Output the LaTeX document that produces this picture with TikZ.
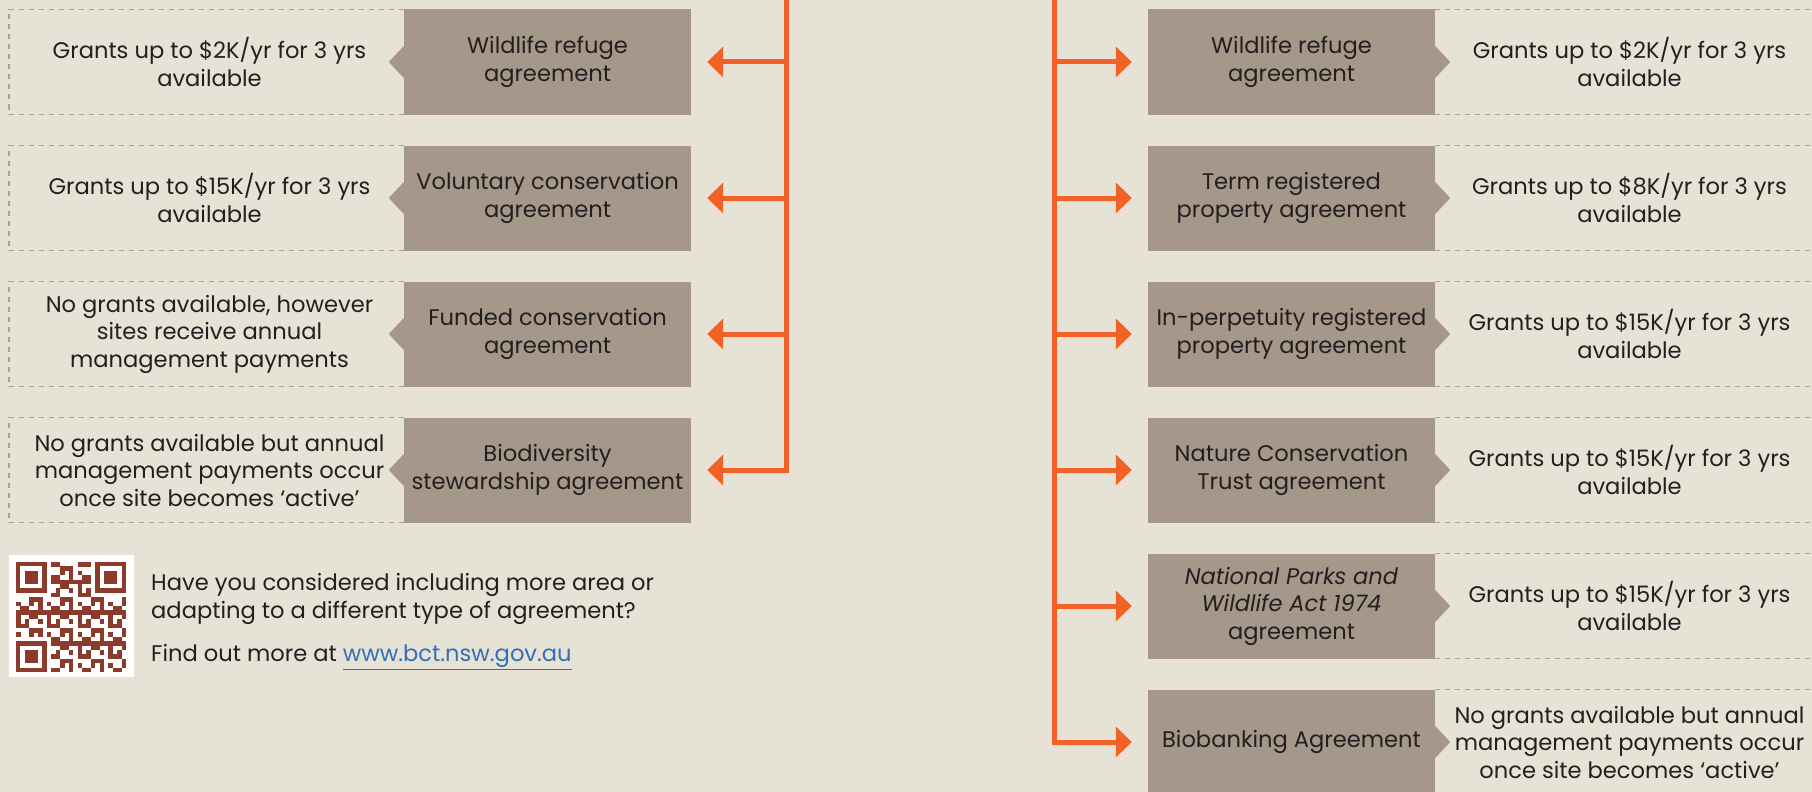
\documentclass[tikz,border=0pt]{standalone}
\usepackage{fontspec}
\setmainfont{Poppins}
\usetikzlibrary{positioning, arrows.meta}
\definecolor{pagebg}{HTML}{E6E2D6}
\definecolor{boxgrey}{HTML}{A59789}
\definecolor{spineorange}{HTML}{F26125}
\definecolor{frameline}{HTML}{ABA297}
\definecolor{qrred}{HTML}{8C3A2C}
\definecolor{linkblue}{HTML}{3270B5}
\definecolor{ink}{HTML}{231F20}

\begin{document}
\begin{tikzpicture}[x=1pt, y=-1pt, node distance=136pt, on grid,
        font=\fontsize{22.6}{27.5}\selectfont, text=ink]
        \tikzset{
            kind/.style={rectangle, fill=boxgrey, minimum width=287pt, minimum height=105pt, align=center, inner sep=0pt},
            grant/.style={align=center, inner sep=0pt},
            dashframe/.style={draw=frameline, line width=1.3pt, dash pattern=on 5pt off 5pt},
            spine/.style={draw=spineorange, line width=5pt, line cap=rect},
            branch/.style={draw=spineorange, line width=5pt, -{Triangle[length=16pt,width=30pt]}, shorten >=16pt}
        }
        \useasboundingbox (0,0) rectangle (1812,792);
        \fill[pagebg] (0,0) rectangle (1812,792);
        \clip (0,0) rectangle (1812,792);

        % left column
        \node[kind] (wrl) at (547.5,62) {Wildlife refuge\\agreement};
        \node[kind] (vca) [below=of wrl] {Voluntary conservation\\agreement};
        \node[kind] (fca) [below=of vca] {Funded conservation\\agreement};
        \node[kind] (bsa) [below=of fca] {Biodiversity\\stewardship agreement};

        \node[grant] (wrlinfo) [left=338pt of wrl] {Grants up to \$2K/yr for 3 yrs\\available};
        \node[grant] (vcainfo) [left=338pt of vca] {Grants up to \$15K/yr for 3 yrs\\available};
        \node[grant] (fcainfo) [left=338pt of fca] {No grants available, however\\sites receive annual\\management payments};
        \node[grant] (bsainfo) [left=338pt of bsa] {No grants available but annual\\management payments occur\\once site becomes ‘active’};

        % right column
        \node[kind] (wrr) at (1291.5,62) {Wildlife refuge\\agreement};
        \node[kind] (trp) [below=of wrr] {Term registered\\property agreement};
        \node[kind] (ipr) [below=of trp] {In-perpetuity registered\\property agreement};
        \node[kind] (nct) [below=of ipr] {Nature Conservation\\Trust agreement};
        \node[kind] (npw) [below=of nct] {\textit{National Parks and}\\\textit{Wildlife Act 1974}\\agreement};
        \node[kind] (bba) [below=of npw] {Biobanking Agreement};

        \node[grant] (wrrinfo) [right=338pt of wrr] {Grants up to \$2K/yr for 3 yrs\\available};
        \node[grant] (trpinfo) [right=338pt of trp] {Grants up to \$8K/yr for 3 yrs\\available};
        \node[grant] (iprinfo) [right=338pt of ipr] {Grants up to \$15K/yr for 3 yrs\\available};
        \node[grant] (nctinfo) [right=338pt of nct] {Grants up to \$15K/yr for 3 yrs\\available};
        \node[grant] (npwinfo) [right=338pt of npw] {Grants up to \$15K/yr for 3 yrs\\available};
        \node[grant] (bbainfo) [right=338pt of bba] {No grants available but annual\\management payments occur\\once site becomes ‘active’};

        % dashed frames and pointers
        \coordinate (edgeL) at (9,0);
        \coordinate (edgeR) at (1830,0);
        \foreach \n in {wrl,vca,fca,bsa} {
            \draw[dashframe] (\n.north west) -- (edgeL |- \n.north) -- (edgeL |- \n.south) -- (\n.south west);
            \fill[boxgrey] ([yshift=16pt]\n.west) -- ++(-15pt,-16pt) -- ++(15pt,-16pt) -- cycle;
        }
        \foreach \n in {wrr,trp,ipr,nct,npw,bba} {
            \draw[dashframe] (\n.north east) -- (edgeR |- \n.north) -- (edgeR |- \n.south) -- (\n.south east);
            \fill[boxgrey] ([yshift=16pt]\n.east) -- ++(15pt,-16pt) -- ++(-15pt,-16pt) -- cycle;
        }

        % orange spines
        \coordinate (spinetopL) at (786,0);
        \coordinate (spinetopR) at (1054,0);
        \draw[spine] (spinetopL) -- (spinetopL |- bsa.east);
        \draw[spine] (spinetopR) -- (spinetopR |- bba.west);
        \foreach \n in {wrl,vca,fca,bsa}
            \draw[branch] (spinetopL |- \n.east) -- (\n.east);
        \foreach \n in {wrr,trp,ipr,nct,npw,bba}
            \draw[branch] (spinetopR |- \n.west) -- (\n.west);

        % QR code
        \fill[white] (9,555) rectangle (134,677);
        \foreach \i in {0,...,24}
            \foreach \j in {0,...,24} {
                \pgfmathtruncatemacro\qrbit{(mod(\i*\i*7+\j*\j*3+\i*\j*5+\i+2*\j,7)<3)*(1-((\i<8)*(\j<8)+(\i>16)*(\j<8)+(\i<8)*(\j>16)))}
                \ifnum\qrbit=1 \fill[qrred] ({16+\i*4.4},{562+\j*4.4}) rectangle ++(4.5,4.5); \fi
            }
        \foreach \fx/\fy in {0/0,18/0,0/18} {
            \fill[qrred] ({16+\fx*4.4},{562+\fy*4.4}) rectangle ++(30.8,30.8);
            \fill[white] ({16+(\fx+1)*4.4},{562+(\fy+1)*4.4}) rectangle ++(22,22);
            \fill[qrred] ({16+(\fx+2)*4.4},{562+(\fy+2)*4.4}) rectangle ++(13.2,13.2);
        }

        \node[anchor=west, align=left, inner sep=0pt] (askq) at (151,599)
            {Have you considered including more area or\\adapting to a different type of agreement?};
        \node[anchor=west, inner sep=0pt] (findout) at (151,657)
            {Find out more at \textcolor{linkblue}{\underline{www.bct.nsw.gov.au}}};
    \end{tikzpicture}
\end{document}
